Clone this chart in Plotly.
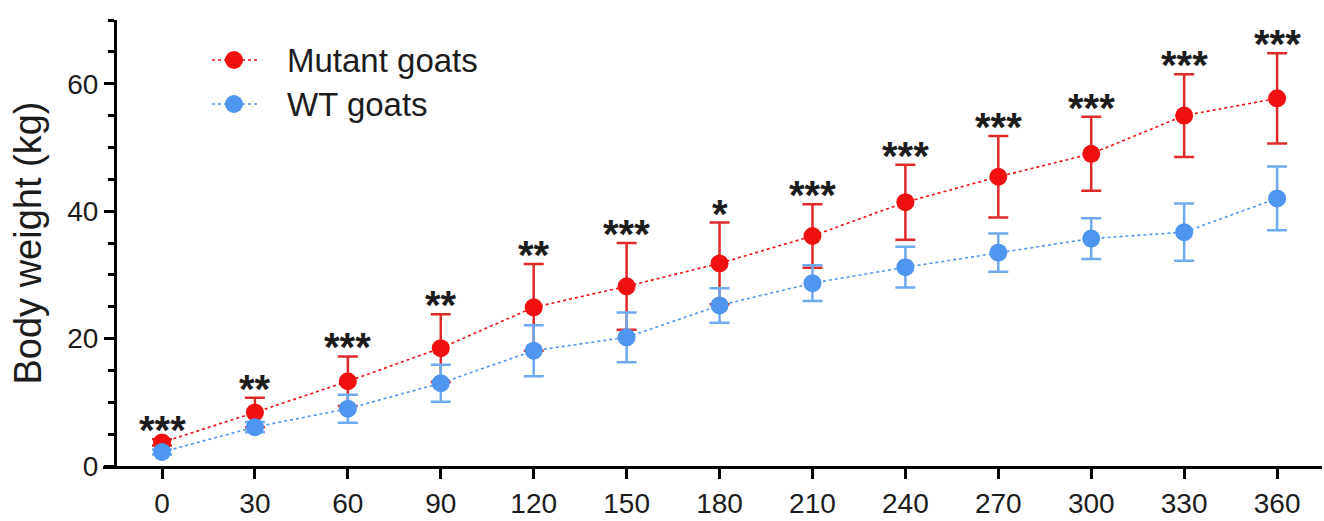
import plotly.graph_objects as go

# Age of the animals (days)
days = [0, 30, 60, 90, 120, 150, 180, 210, 240, 270, 300, 330, 360]

# Body weight, mean and SD (kg)
mutant_mean = [3.7, 8.4, 13.3, 18.5, 24.9, 28.2, 31.8, 36.1, 41.4, 45.4, 49.0, 55.0, 57.7]
mutant_sd = [0.5, 2.3, 3.9, 5.3, 6.8, 6.8, 6.4, 5.0, 5.9, 6.4, 5.8, 6.5, 7.1]
wt_mean = [2.2, 6.1, 9.0, 13.0, 18.1, 20.2, 25.2, 28.7, 31.2, 33.5, 35.7, 36.7, 42.0]
wt_sd = [0.4, 0.8, 2.2, 2.9, 4.0, 3.9, 2.7, 2.8, 3.2, 3.0, 3.2, 4.5, 5.0]

# Significance of the mutant vs WT difference at each age
significance = ["***", "**", "***", "**", "**", "***", "*", "***",
                "***", "***", "***", "***", "***"]

series_names = ["Mutant goats", "WT goats"]

x_ticks = [0, 30, 60, 90, 120, 150, 180, 210, 240, 270, 300, 330, 360]
y_ticks = [0, 20, 40, 60]

RED = "#f01010"
RED_BAR = "#e02a2a"
BLUE = "#4f96ee"
BLUE_BAR = "#6fa9ef"
INK = "#1c1c1c"
FONT = "Liberation Sans, Arial, sans-serif"

W, H = 1324, 521
M_L, M_R, M_T, M_B = 103, 2, 20, 55
PLOT_W = W - M_L - M_R
PLOT_H = H - M_T - M_B


def px_to_paper(px, py):
    """Convert a page pixel position to paper coordinates."""
    return (px - M_L) / PLOT_W, (H - M_B - py) / PLOT_H


fig = go.Figure()

fig.add_trace(go.Scatter(
    x=days, y=mutant_mean, name=series_names[0],
    mode="lines+markers", showlegend=False,
    line=dict(color=RED, width=1.6, dash="dot"),
    marker=dict(color=RED, size=18),
    error_y=dict(type="data", array=mutant_sd, visible=True,
                 color=RED_BAR, thickness=2.5, width=10),
))

fig.add_trace(go.Scatter(
    x=days, y=wt_mean, name=series_names[1],
    mode="lines+markers", showlegend=False,
    line=dict(color=BLUE, width=1.6, dash="dot"),
    marker=dict(color=BLUE, size=18),
    error_y=dict(type="data", array=wt_sd, visible=True,
                 color=BLUE_BAR, thickness=2.5, width=10),
))

# Significance marks above the upper error bar of the mutant series
for d, m, s, sig in zip(days, mutant_mean, mutant_sd, significance):
    fig.add_annotation(
        x=d, y=m + s, text=f"<b>{sig}</b>", showarrow=False,
        xanchor="center", yanchor="middle", yshift=9,
        font=dict(family=FONT, size=40, color=INK),
    )

# Legend: dotted line with a dot, followed by the series name
legend_rows = [(60, RED), (104, BLUE)]
for (row_y, color), label in zip(legend_rows, series_names):
    x0, y0 = px_to_paper(212, row_y)
    x1, _ = px_to_paper(257, row_y)
    fig.add_shape(type="line", xref="paper", yref="paper",
                  x0=x0, y0=y0, x1=x1, y1=y0,
                  line=dict(color=color, width=1.6, dash="dot"))
    cx0, cy0 = px_to_paper(234 - 9, row_y + 9)
    cx1, cy1 = px_to_paper(234 + 9, row_y - 9)
    fig.add_shape(type="circle", xref="paper", yref="paper",
                  x0=cx0, y0=cy0, x1=cx1, y1=cy1,
                  fillcolor=color, line=dict(width=0))
    tx, ty = px_to_paper(285, row_y)
    fig.add_annotation(xref="paper", yref="paper", x=tx, y=ty,
                       text=label, showarrow=False,
                       xanchor="left", yanchor="middle",
                       font=dict(family=FONT, size=33, color=INK))

fig.update_layout(
    width=W, height=H,
    margin=dict(l=M_L, r=M_R, t=M_T, b=M_B),
    paper_bgcolor="white", plot_bgcolor="white",
    font=dict(family=FONT, color=INK),
    showlegend=False,
    xaxis=dict(
        range=[-19.05, 374.5], tickvals=x_ticks,
        ticktext=[str(v) for v in x_ticks],
        showline=True, linecolor="black", linewidth=3,
        ticks="outside", ticklen=10, tickwidth=3, tickcolor="black",
        tickfont=dict(family=FONT, size=28, color=INK),
        showgrid=False, zeroline=False,
    ),
    yaxis=dict(
        range=[0, 70], tickvals=y_ticks,
        anchor="free", position=(115 - M_L) / PLOT_W,
        showline=True, linecolor="black", linewidth=3,
        ticks="outside", ticklen=10, tickwidth=3, tickcolor="black",
        tickfont=dict(family=FONT, size=28, color=INK),
        minor=dict(dtick=5, ticks="outside", ticklen=6, tickwidth=2.5,
                   tickcolor="black", showgrid=False),
        title=dict(text="Body weight (kg)", standoff=12,
                   font=dict(family=FONT, size=38, color=INK)),
        showgrid=False, zeroline=False,
    ),
)

fig.write_html("out.html")
